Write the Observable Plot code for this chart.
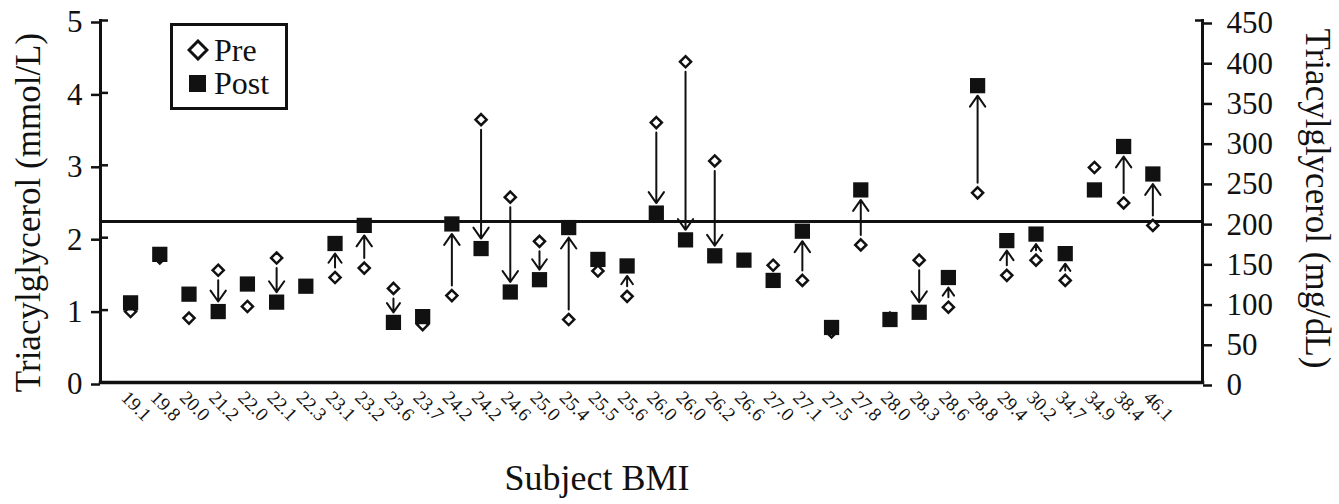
<!DOCTYPE html>
<html>
<head>
<meta charset="utf-8">
<script src="https://cdn.jsdelivr.net/npm/d3@7"></script>
<script src="https://cdn.jsdelivr.net/npm/@observablehq/plot@0.6"></script>
<style>
  html, body { margin: 0; padding: 0; background: #fff; }
  #wrap { position: relative; width: 1339px; height: 504px; font-family: "Liberation Serif", "Times New Roman", serif; color: #111; }
  #legend { position: absolute; left: 170px; top: 23px; width: 112px; height: 81px; border: 3px solid #111; background: #fff; }
  .lrow { position: absolute; left: 14px; height: 30px; font-size: 32px; line-height: 30px; display: flex; align-items: center; white-space: nowrap; }
  .lrow svg { margin-right: 5px; }
  #xlabel { position: absolute; left: 0; width: 1194px; top: 456px; text-align: center; font-size: 36px; line-height: 44px; }
</style>
</head>
<body>
<div id="wrap">
  <div id="chart"></div>
  <div id="legend">
    <div class="lrow" style="top:9px"><svg width="22" height="22"><path d="M11,2L20,11L11,20L2,11Z" fill="#fff" stroke="#111" stroke-width="3"/></svg>Pre</div>
    <div class="lrow" style="top:42px"><svg width="22" height="22"><rect x="2" y="3" width="17" height="17" fill="#111"/></svg>Post</div>
  </div>
  <div id="xlabel">Subject BMI</div>
</div>
<script>
// Subject BMI tick labels (one per subject)
const bmi = ["19.1","19.8","20.0","21.2","22.0","22.1","22.3","23.1","23.2","23.6","23.7","24.2","24.2","24.6","25.0","25.4","25.5","25.6","26.0","26.0","26.2","26.6","27.0","27.1","27.5","27.8","28.0","28.3","28.6","28.8","29.4","30.2","34.7","34.9","38.4","46.1"];
// Triacylglycerol, mmol/L
const pre  = [0.98,1.72,0.89,1.55,1.05,1.72,1.33,1.45,1.58,1.30,0.80,1.20,3.63,2.56,1.95,0.87,1.54,1.19,3.59,4.43,3.06,1.69,1.62,1.41,0.70,1.90,0.89,1.69,1.04,2.62,1.48,1.69,1.41,2.97,2.48,2.17];
const post = [1.10,1.77,1.22,0.98,1.36,1.11,1.33,1.92,2.17,0.83,0.91,2.19,1.85,1.25,1.42,2.14,1.70,1.61,2.34,1.97,1.75,1.69,1.41,2.09,0.76,2.66,0.87,0.97,1.45,4.10,1.96,2.05,1.78,2.66,3.26,2.88];
// whether the chart draws a change arrow for that subject
const arrowShown = [0,0,0,1,0,1,0,1,1,1,0,1,1,1,1,1,0,1,1,1,1,0,0,1,0,1,0,1,1,1,1,1,1,0,1,1];
// axes
const leftTicks = [0,1,2,3,4,5];
const rightTicksMg = [0,50,100,150,200,250,300,350,400,450];
const mgPerUnit = 90;          // right axis 450 mg/dL aligns with 5 mmol/L
const refLineMg = 200;         // horizontal reference line

const rows = bmi.map((b, i) => ({i, bmi: b, pre: pre[i], post: post[i], arrow: arrowShown[i] === 1}));
const font = '"Liberation Serif", "Times New Roman", serif';
const ink = "#111";

const chart = Plot.plot({
  width: 1339,
  height: 445,
  marginTop: 20,
  marginBottom: 63,
  marginLeft: 100,
  marginRight: 137,
  style: {fontFamily: font, color: ink, background: "#fff"},
  x: {type: "linear", domain: [-1.03, 36.7], axis: null},
  y: {domain: [0, 5], axis: null},
  marks: [
    Plot.ruleY([refLineMg / mgPerUnit], {stroke: ink, strokeWidth: 3}),
    Plot.frame({anchor: "left", stroke: ink, strokeWidth: 3}),
    Plot.frame({anchor: "right", stroke: ink, strokeWidth: 3}),
    Plot.frame({anchor: "bottom", stroke: ink, strokeWidth: 3.5}),
    // left axis, ticks crossing the axis line
    Plot.axisY(leftTicks, {anchor: "left", tickSize: 9, tickPadding: 9, fontSize: 31, fontFamily: font, strokeWidth: 2.5, stroke: ink, fill: ink, label: null, dy: 2, tickFormat: d => String(d)}),
    Plot.axisY(leftTicks, {anchor: "left", tickSize: -8, text: null, strokeWidth: 2.5, stroke: ink, label: null}),
    // right axis in mg/dL
    Plot.axisY(rightTicksMg.map(v => v / mgPerUnit), {anchor: "right", tickSize: 9, tickPadding: 15, fontSize: 31, fontFamily: font, strokeWidth: 2.5, stroke: ink, fill: ink, label: null, dy: 3, tickFormat: d => String(Math.round(d * mgPerUnit))}),
    Plot.axisY([rightTicksMg[rightTicksMg.length - 1] / mgPerUnit], {anchor: "right", tickSize: -8, text: null, strokeWidth: 2.5, stroke: ink, label: null}),
    // x tick labels
    Plot.axisX(rows.map(d => d.i), {anchor: "bottom", tickSize: 0, tickRotate: 45, fontSize: 19, fontFamily: font, fill: ink, tickPadding: 12, dx: -6, label: null, tickFormat: i => bmi[i]}),
    // axis titles
    Plot.text(["Triacylglycerol (mmol/L)"], {frameAnchor: "left", rotate: -90, dx: -72, dy: 11, fontSize: 35, fontFamily: font, fill: ink, textAnchor: "middle"}),
    Plot.text(["Triacylglycerol (mg/dL)"], {frameAnchor: "right", rotate: 90, dx: 115, dy: -3, fontSize: 35, fontFamily: font, fill: ink, textAnchor: "middle"}),
    // change arrows
    Plot.arrow(rows.filter(d => d.arrow), {x1: "i", y1: "pre", x2: "i", y2: "post", stroke: ink, strokeWidth: 2, headLength: 10, headAngle: 70, insetStart: 10, insetEnd: 10}),
    // points
    Plot.dot(rows, {x: "i", y: "pre", symbol: "diamond2", r: 5, fill: "#fff", stroke: ink, strokeWidth: 2.5}),
    Plot.dot(rows, {x: "i", y: "post", symbol: "square", r: 8.6, fill: ink, stroke: "none"})
  ]
});
document.getElementById("chart").appendChild(chart);
</script>
</body>
</html>
